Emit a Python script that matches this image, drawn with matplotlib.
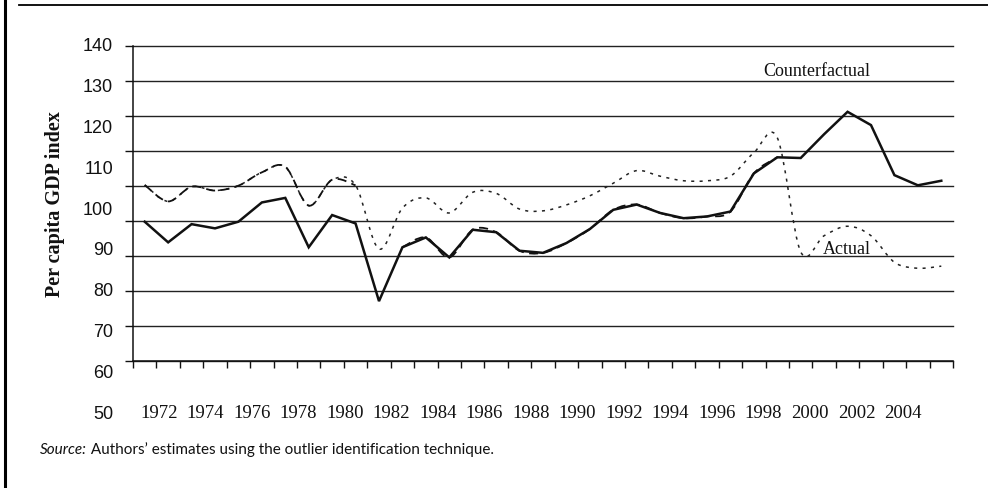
import numpy as np
import matplotlib
matplotlib.use("Agg")
import matplotlib.pyplot as plt
from matplotlib.path import Path
from matplotlib.patches import PathPatch
from matplotlib.lines import Line2D
from matplotlib.transforms import blended_transform_factory

# ---------------- data ----------------
years = list(range(1971, 2006))
solid_line = [89.8, 83.9, 89.1, 87.9, 89.8, 95.3, 96.6, 82.5, 91.7, 89.3,
              67.1, 82.5, 85.3, 79.6, 87.5, 86.8, 81.5, 80.9, 83.7, 87.7,
              93.2, 94.7, 92.3, 90.8, 91.3, 92.7, 103.6, 108.2, 108.0, 114.8,
              121.2, 117.4, 103.1, 100.2, 101.5]
dotted_line = [100.3, 95.6, 99.8, 98.7, 100.1, 103.9, 105.5, 94.4, 101.8, 100.2,
               82.0, 93.7, 96.6, 92.3, 98.2, 97.9, 93.4, 92.9, 94.6, 97.2,
               100.8, 104.4, 102.8, 101.5, 101.5, 102.8, 109.5, 113.8, 81.2, 85.8,
               88.5, 85.8, 78.2, 76.5, 77.1]
nan = float("nan")
dashed_line = [100.3, 95.6, 99.8, 98.7, 100.1, 103.9, 105.5, 94.4, 101.8, 100.2,
               nan, 82.5, 85.3, 79.6, 87.5, 86.8, 81.5, 80.9, 83.7, 87.7,
               93.2, 94.7, 92.3, 90.8, 91.3, 92.7, 103.6, 108.2, nan, nan,
               nan, nan, nan, nan, nan]
y_gridvals = [140, 130, 120, 110, 100, 90, 80, 70, 60, 50]
y_labels = ["140", "130", "120", "110", "100", "90", "80", "70", "60", "50"]
x_labels = ["1972", "1974", "1976", "1978", "1980", "1982", "1984", "1986",
            "1988", "1990", "1992", "1994", "1996", "1998", "2000", "2002", "2004"]
ylabel_text = "Per capita GDP index"
label_cf = "Counterfactual"
label_act = "Actual"

# ---------------- figure ----------------
W, H = 988, 489
fig = plt.figure(figsize=(W / 100, H / 100), dpi=100)
fig.patch.set_facecolor("white")

L, R, T, B = 133, 953, 47, 362
ax = fig.add_axes([L / W, (H - B) / H, (R - L) / W, (B - T) / H])
n = len(years)
xs = np.arange(n)
ax.set_xlim(-0.5, n - 0.5)
ax.set_ylim(min(y_gridvals), max(y_gridvals))

for s in ["top", "right"]:
    ax.spines[s].set_visible(False)
for s in ["left", "bottom"]:
    ax.spines[s].set_color("#111111")
    ax.spines[s].set_linewidth(1.1)

ax.set_yticks(y_gridvals)
ax.set_yticklabels([])
ax.tick_params(axis="y", direction="out", length=6, width=1.0, color="#111111")
ax.yaxis.grid(True, color="#222222", linewidth=1.0)
for gl in ax.get_ygridlines():
    gl.set_clip_on(False)
ax.set_xticks(np.arange(-0.5, n, 1.0))
ax.set_xticklabels([])
ax.tick_params(axis="x", direction="out", length=5, width=1.0, color="#111111")
ax.set_axisbelow(True)


def smooth_path(px, py):
    verts = [(px[0], py[0])]
    codes = [Path.MOVETO]
    m = len(px)
    for i in range(m - 1):
        a = max(i - 1, 0)
        d = min(i + 2, m - 1)
        c1 = (px[i] + (px[i + 1] - px[a]) / 6.0, py[i] + (py[i + 1] - py[a]) / 6.0)
        c2 = (px[i + 1] - (px[d] - px[i]) / 6.0, py[i + 1] - (py[d] - py[i]) / 6.0)
        verts += [c1, c2, (px[i + 1], py[i + 1])]
        codes += [Path.CURVE4] * 3
    return Path(verts, codes)


def draw_smooth(values, **kw):
    vals = np.asarray(values, dtype=float)
    seg_x, seg_y = [], []
    for xi, v in list(zip(xs, vals)) + [(None, nan)]:
        if xi is not None and not np.isnan(v):
            seg_x.append(xi)
            seg_y.append(v)
        else:
            if len(seg_x) > 1:
                ax.add_patch(PathPatch(smooth_path(seg_x, seg_y), fill=False, **kw))
            seg_x, seg_y = [], []


draw_smooth(dotted_line, edgecolor="#222222", linewidth=1.1, linestyle=(0, (2.0, 3.5)), zorder=3)
draw_smooth(dashed_line, edgecolor="#111111", linewidth=1.3, linestyle=(0, (5.0, 3.0)), zorder=4)
ax.plot(xs, solid_line, color="#111111", linewidth=1.8, solid_joinstyle="miter", zorder=5)

# y tick labels (offset as in the reference)
tr_y = blended_transform_factory(ax.transAxes, ax.transData)
step = 10 * 40.8 / 35.0
for k, lab in enumerate(y_labels):
    ax.text(-20 / (R - L), max(y_gridvals) - k * step, lab, transform=tr_y,
            ha="right", va="center", fontsize=13, family="Liberation Sans",
            color="#111111", clip_on=False)

# x tick labels
tr_x = blended_transform_factory(ax.transData, ax.transAxes)
for k, lab in enumerate(x_labels):
    ax.text(0.61 + k * 1.985, (B - 414) / (B - T), lab, transform=tr_x,
            ha="center", va="center", fontsize=13.5, family="Liberation Serif",
            color="#111111", clip_on=False)

# axis title
fig.text(55 / W, 1 - 204 / H, ylabel_text, rotation=90, ha="center", va="center",
         fontsize=14.5, fontweight="bold", family="Liberation Serif", color="#111111")

# series labels
ax.text(28.7, 132.9, label_cf, ha="center", va="center", fontsize=13,
        family="Liberation Serif", color="#111111")
ax.text(29.96, 82.0, label_act, ha="center", va="center", fontsize=13,
        family="Liberation Serif", color="#111111")

# source note
t1 = fig.text(40 / W, 1 - 450 / H, "Source:", ha="left", va="center", fontsize=11,
              style="italic", family="Lato", color="#111111")
ax.annotate(" Authors\u2019 estimates using the outlier identification technique.",
            xy=(1, 0.5), xycoords=t1, xytext=(0, 0), textcoords="offset points",
            ha="left", va="center", fontsize=11, family="Lato", color="#111111",
            annotation_clip=False)

# frame lines
fig.add_artist(Line2D([4.5 / W, 4.5 / W], [0, 1], transform=fig.transFigure,
                      color="#000000", linewidth=2.2))
fig.add_artist(Line2D([19 / W, 1], [1 - 6 / H, 1 - 6 / H], transform=fig.transFigure,
                      color="#000000", linewidth=1.3))

fig.savefig("out.png", dpi=100, facecolor="white")
